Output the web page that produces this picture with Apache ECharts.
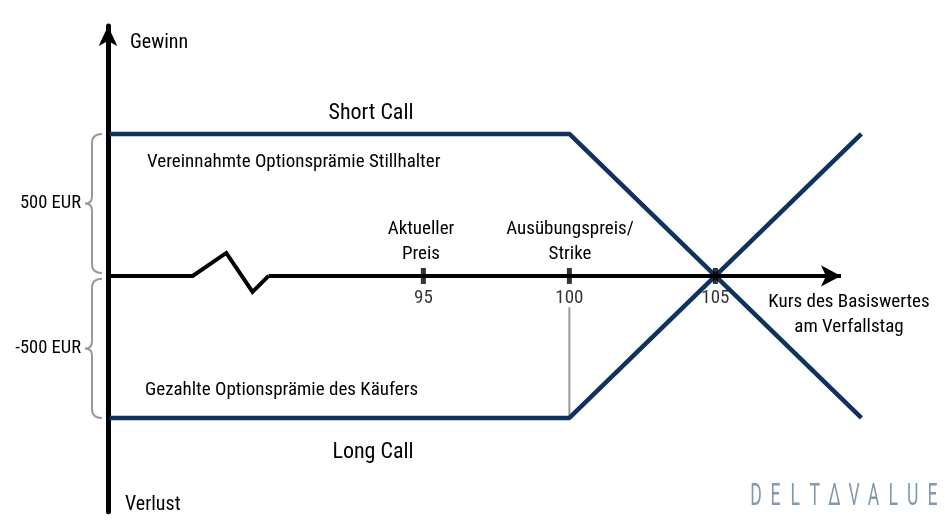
<!DOCTYPE html>
<html>
<head>
<meta charset="utf-8">
<script src="https://cdn.jsdelivr.net/npm/echarts@6/dist/echarts.min.js"></script>
<style>
    html, body { margin: 0; padding: 0; background: #fff; }
    #chart { width: 945px; height: 528px; }
</style>
</head>
<body>
<div id="chart"></div>
<script>
// Kurs des Basiswertes (x) / Gewinn-Verlust in EUR (y)
const xTicks = [95, 100, 105];
const shortCall = [[84.25, 500], [100, 500], [110, -500]];
const longCall = [[84.25, -500], [100, -500], [110, 500]];
const axisBreak = [[84.2, 0], [87.1, 0], [88.25, 81], [89.15, -56], [89.7, 0]];
const axisEnd = 109.3;
const strikeLine = [[100, -500], [100, -110]];
const braces = [[500, 10, '500 EUR'], [-10, -500, '-500 EUR']];

const FONT = '"Roboto Condensed", Roboto, sans-serif';
const NAVY = '#0f335c';
const INK = '#000';

const chart = echarts.init(document.getElementById('chart'));

function renderBrace(params, api) {
    const top = api.coord([84.2, api.value(0)]);
    const bottom = api.coord([84.2, api.value(1)]);
    const ax = top[0];
    const xr = ax - 6;
    const xm = ax - 16;
    const tip = ax - 23;
    const y0 = top[1];
    const y1 = bottom[1];
    const mid = (y0 + y1) / 2;
    const path = 'M' + xr + ',' + y0 +
        ' Q' + xm + ',' + y0 + ' ' + xm + ',' + (y0 + 9) +
        ' L' + xm + ',' + (mid - 7) +
        ' Q' + xm + ',' + mid + ' ' + tip + ',' + mid +
        ' Q' + xm + ',' + mid + ' ' + xm + ',' + (mid + 7) +
        ' L' + xm + ',' + (y1 - 9) +
        ' Q' + xm + ',' + y1 + ' ' + xr + ',' + y1;
    return {
        type: 'group',
        children: [{
            type: 'path',
            shape: { pathData: path },
            style: { fill: 'none', stroke: '#999', lineWidth: 2 }
        }, {
            type: 'text',
            style: {
                text: api.value(2),
                x: tip - 4,
                y: mid,
                textAlign: 'right',
                textVerticalAlign: 'middle',
                fontFamily: FONT,
                fontSize: 18.5,
                fill: INK
            }
        }]
    };
}

function txt(text, x, y, size, align) {
    return {
        type: 'text',
        silent: true,
        style: {
            text: text,
            x: x,
            y: y,
            textAlign: align || 'left',
            textVerticalAlign: 'middle',
            fontFamily: FONT,
            fontSize: size,
            lineHeight: size * 1.3,
            fill: INK
        }
    };
}

// Logo: schmale, gesperrte Buchstaben
const logoLetters = 'DELTΔVALUE'.split('');
const logo = {
    type: 'group',
    silent: true,
    children: logoLetters.map((ch, i) => ({
        type: 'text',
        x: 756 + i * 19.6,
        y: 497,
        scaleX: 0.55,
        style: {
            text: ch,
            x: 0,
            y: 0,
            textAlign: 'center',
            textVerticalAlign: 'middle',
            fontFamily: 'Roboto, sans-serif',
            fontWeight: 400,
            fontSize: 32,
            fill: '#8199b2'
        }
    }))
};

const option = {
    animation: false,
    grid: {
        left: 108,
        right: 54.4,
        top: 26,
        bottom: 16.3
    },
    xAxis: {
        type: 'value',
        min: 84.2,
        max: 111,
        axisLine: { show: false },
        axisTick: { show: false },
        axisLabel: { show: false },
        splitLine: { show: false }
    },
    yAxis: {
        type: 'value',
        min: -830,
        max: 880,
        axisLine: {
            show: true,
            onZero: false,
            symbol: ['none', 'arrow'],
            symbolSize: [14, 20],
            lineStyle: { color: '#000', width: 5 }
        },
        axisTick: { show: false },
        axisLabel: { show: false },
        splitLine: { show: false }
    },
    graphic: [
        txt('Gewinn', 130, 43, 20),
        txt('Verlust', 125, 505, 20),
        txt('Short Call', 371, 113, 22, 'center'),
        txt('Long Call', 373, 452, 22, 'center'),
        txt('Vereinnahmte Optionsprämie Stillhalter', 147, 162, 19),
        txt('Gezahlte Optionsprämie des Käufers', 145, 390, 19),
        txt('Aktueller\nPreis', 421, 242, 19, 'center'),
        txt('Ausübungspreis/\nStrike', 570, 242, 19, 'center'),
        txt('Kurs des Basiswertes\nam Verfallstag', 849, 315, 19, 'center'),
        logo
    ],
    series: [
        {
            name: 'Achse',
            type: 'line',
            data: axisBreak,
            symbol: 'none',
            silent: true,
            lineStyle: { color: '#000', width: 4, join: 'miter' },
            z: 3,
            markLine: {
                silent: true,
                symbol: ['none', 'arrow'],
                symbolSize: [16, 20],
                label: { show: false },
                lineStyle: { color: '#000', width: 4, type: 'solid' },
                data: [[{ coord: axisBreak[axisBreak.length - 1] }, { coord: [axisEnd, 0] }]]
            }
        },
        {
            name: 'Strike',
            type: 'line',
            data: strikeLine,
            symbol: 'none',
            silent: true,
            lineStyle: { color: '#999', width: 2 },
            z: 1
        },
        {
            name: 'Short Call',
            type: 'line',
            data: shortCall,
            symbol: 'none',
            lineStyle: { color: NAVY, width: 4.5 },
            z: 4
        },
        {
            name: 'Long Call',
            type: 'line',
            data: longCall,
            symbol: 'none',
            lineStyle: { color: NAVY, width: 4.5 },
            z: 4
        },
        {
            name: 'Ticks',
            type: 'scatter',
            data: xTicks.map(v => [v, 0]),
            symbol: 'rect',
            symbolSize: [5, 16],
            itemStyle: { color: '#000' },
            z: 5,
            label: {
                show: true,
                position: 'bottom',
                distance: 5,
                formatter: p => String(p.value[0]),
                fontFamily: FONT,
                fontSize: 19,
                color: INK
            }
        },
        {
            name: 'Klammern',
            type: 'custom',
            data: braces,
            renderItem: renderBrace,
            silent: true,
            z: 2
        }
    ]
};
chart.setOption(option);
</script>
</body>
</html>
